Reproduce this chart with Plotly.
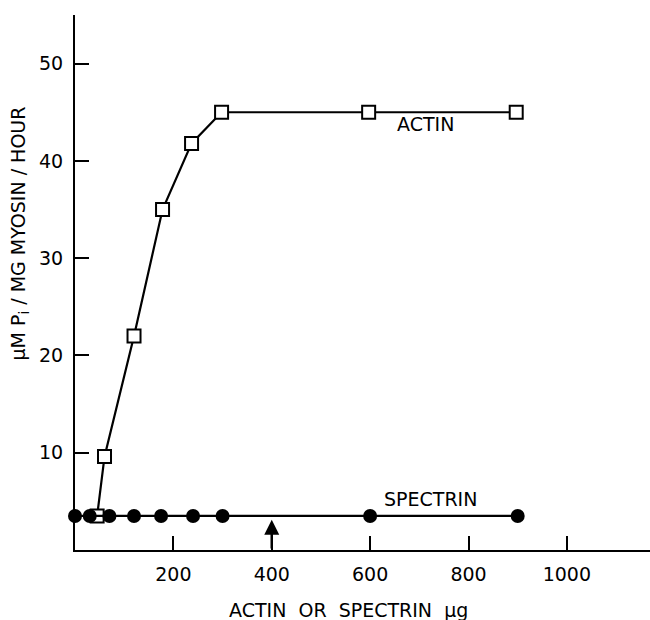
import plotly.graph_objects as go

# Data
actin_x = [45, 60, 120, 178, 237, 298, 597, 897]
actin_y = [3.5, 9.6, 22, 35, 41.8, 45, 45, 45]

spectrin_x = [0, 30, 70, 120, 175, 240, 300, 600, 900]
spectrin_y = [3.5, 3.5, 3.5, 3.5, 3.5, 3.5, 3.5, 3.5, 3.5]

x_ticks = [200, 400, 600, 800, 1000]
x_tick_labels = ["200", "400", "600", "800", "1000"]
y_ticks = [10, 20, 30, 40, 50]
y_tick_labels = ["10", "20", "30", "40", "50"]

arrow_x = 400
arrow_y = 3.1

FONT = "DejaVu Sans"

fig = go.Figure()
fig.add_trace(go.Scatter(
    x=actin_x, y=actin_y, mode="lines+markers", name="ACTIN",
    line=dict(color="black", width=2.2),
    marker=dict(symbol="square", size=13, color="white",
                line=dict(color="black", width=2)),
    cliponaxis=False,
))
fig.add_trace(go.Scatter(
    x=spectrin_x, y=spectrin_y, mode="lines+markers", name="SPECTRIN",
    line=dict(color="black", width=2.2),
    marker=dict(symbol="circle", size=14, color="black"),
    cliponaxis=False,
))

fig.add_annotation(x=713, y=43.8, text="ACTIN", showarrow=False,
                   font=dict(family=FONT, size=19, color="black"))
fig.add_annotation(x=722, y=5.2, text="SPECTRIN", showarrow=False,
                   font=dict(family=FONT, size=19, color="black"))
fig.add_annotation(x=arrow_x, y=arrow_y, ax=arrow_x, ay=0,
                   axref="x", ayref="y", xref="x", yref="y",
                   text="", showarrow=True, arrowhead=2, arrowsize=1.2,
                   arrowwidth=2.5, arrowcolor="black")

# axis titles (placed as annotations for precise positioning)
fig.add_annotation(xref="paper", yref="paper", x=0.475, y=-0.112,
                   xanchor="center", yanchor="middle",
                   text="ACTIN\u00a0\u00a0OR\u00a0\u00a0SPECTRIN\u00a0\u00a0\u03bcg",
                   showarrow=False, font=dict(family=FONT, size=19, color="black"))
fig.add_annotation(xref="paper", yref="paper", x=-0.097, y=0.592,
                   xanchor="center", yanchor="middle",
                   text="\u03bcM\u00a0P<sub>i</sub>\u00a0/\u00a0MG\u00a0MYOSIN\u00a0/\u00a0HOUR",
                   textangle=-90, showarrow=False,
                   font=dict(family=FONT, size=19, color="black"))

fig.update_layout(
    width=650, height=620,
    margin=dict(l=75, r=0, t=15, b=70),
    paper_bgcolor="white", plot_bgcolor="white",
    showlegend=False,
    font=dict(family=FONT, size=19, color="black"),
    xaxis=dict(
        range=[0, 1169], showgrid=False, zeroline=False, automargin=False,
        showline=True, linecolor="black", linewidth=2,
        ticks="inside", ticklen=14, tickwidth=2, tickcolor="black",
        tickvals=x_ticks, ticktext=x_tick_labels,
        tickfont=dict(family=FONT, size=19),
        ticklabelstandoff=6,
    ),
    yaxis=dict(
        range=[0, 55], showgrid=False, zeroline=False, automargin=False,
        showline=True, linecolor="black", linewidth=2,
        ticks="inside", ticklen=14, tickwidth=2, tickcolor="black",
        tickvals=y_ticks, ticktext=y_tick_labels,
        tickfont=dict(family=FONT, size=19),
        ticklabelstandoff=6,
    ),
)

fig.write_html("out.html",
               config={"displayModeBar": False},
               post_script="document.body.style.margin='0';document.body.style.overflow='hidden';")
